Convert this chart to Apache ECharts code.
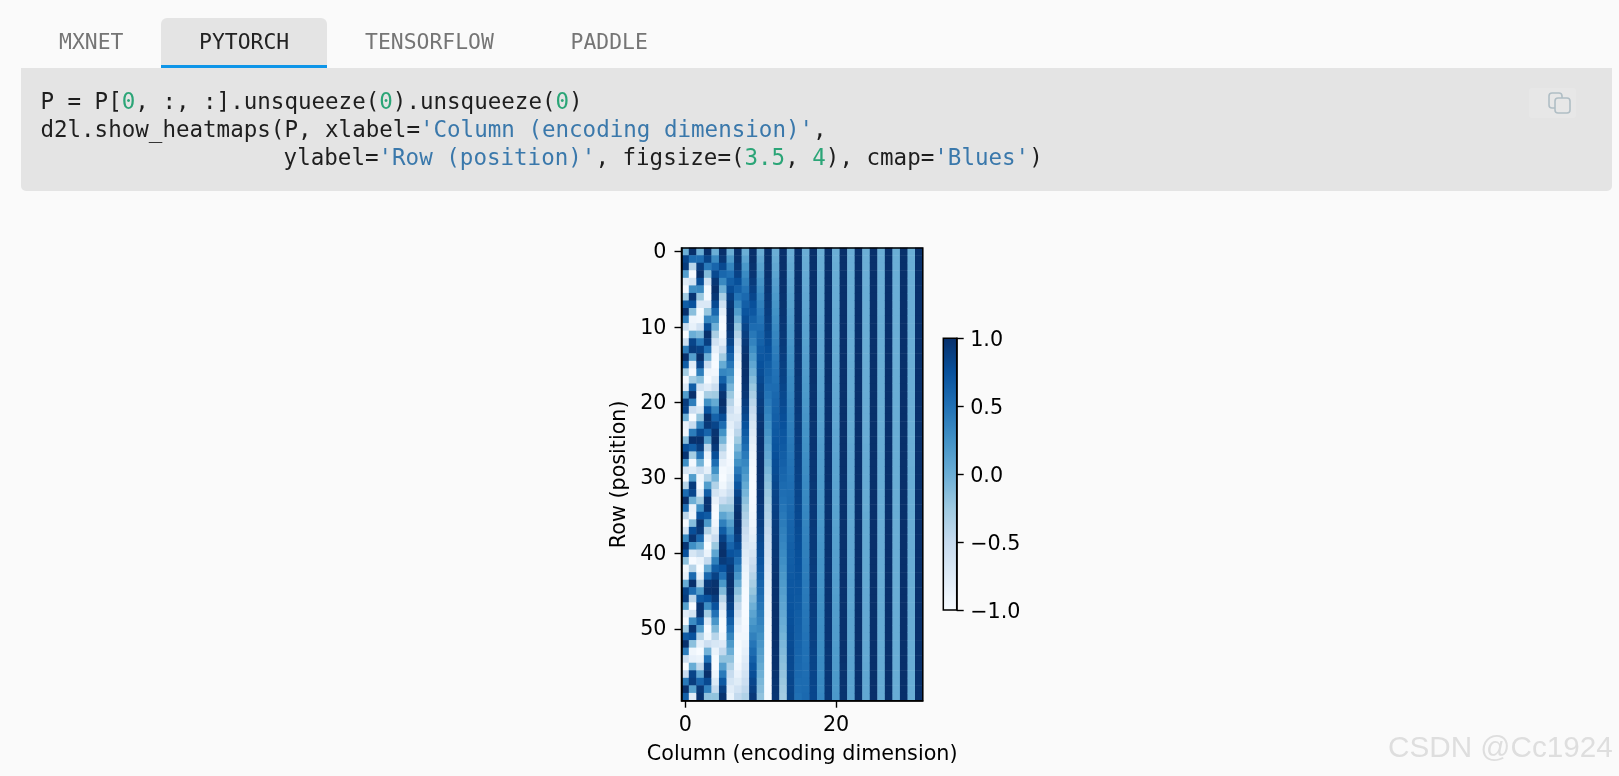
<!DOCTYPE html>
<html><head><meta charset="utf-8">
<style>html,body{margin:0;padding:0;background:#fafafa}#c{width:1619px;height:776px}</style>
<script src="https://cdn.jsdelivr.net/npm/echarts@6/dist/echarts.min.js"></script>
</head><body><div id="c"></div>
<script>
const tabLabels = ['MXNET','PYTORCH','TENSORFLOW','PADDLE'];
const colorbarTicks = [-1,-0.5,0,0.5,1];
const blues = ['#f7fbff','#deebf7','#c6dbef','#9ecae1','#6baed6','#4292c6','#2171b5','#08519c','#08306b'];
const xLabel = 'Column (encoding dimension)';
const yLabel = 'Row (position)';

const col0=[0,.84,.91,.14,-.76,-.96,-.28,.66,.99,.41,
-.54,-1,-.54,.42,.99,.65,-.29,-.96,-.75,.15,
.91,.84,-.01,-.85,-.91,-.13,.76,.96,.27,-.66,
-.99,-.40,.55,1,.53,-.43,-.99,-.64,.30,.96,
.75,-.16,-.92,-.83,.02,.85,.90,.12,-.77,-.95,
-.26,.67,.99,.40,-.56,-1,-.52,.44,.99,.64];
const col1=[1,.54,-.42,-.99,-.65,.28,.96,.75,-.15,-.91,
-.84,0,.84,.91,.14,-.76,-.96,-.28,.66,.99,
.41,-.55,-1,-.53,.42,.99,.65,-.29,-.96,-.75,
.15,.91,.83,-.01,-.85,-.90,-.13,.77,.96,.27,
-.67,-.99,-.40,.56,1,.53,-.43,-.99,-.64,.30,
.96,.74,-.16,-.92,-.83,.02,.85,.90,.12,-.77];
const col2=[0,.53,.90,.99,.78,.32,-.23,-.71,-.98,-.94,
-.61,-.10,.45,.86,1,.83,.41,-.13,-.64,-.95,
-.97,-.70,-.19,.36,.80,.99,.89,.50,-.03,-.57,
-.92,-.99,-.75,-.29,.27,.74,.98,.93,.58,.06,
-.48,-.87,-1,-.82,-.38,.17,.67,.96,.96,.66,
.16,-.39,-.82,-1,-.87,-.47,.07,.59,.93,.98];
const col3=[1,.85,.43,-.12,-.63,-.95,-.97,-.71,-.21,.34,
.79,1,.89,.51,-.02,-.55,-.91,-.99,-.77,-.31,
.25,.72,.98,.93,.60,.12,-.45,-.87,-1,-.82,
-.39,.15,.66,.96,.96,.67,.19,-.37,-.82,-1,
-.88,-.49,.05,.58,.93,.98,.74,.28,-.28,-.75,
-.99,-.92,-.57,-.04,.50,.88,1,.81,.37,-.19];
const col4=[0,.31,.59,.81,.95,1,.95,.80,.57,.29,
-.02,-.33,-.61,-.83,-.96,-1,-.94,-.79,-.56,-.27,
.04,.35,.62,.84,.97,1,.93,.77,.53,.25,
-.06,-.37,-.64,-.85,-.97,-1,-.92,-.76,-.52,-.23,
.08,.39,.66,.86,.98,1,.91,.74,.50,.21,
-.10,-.41,-.68,-.87,-.98,-1,-.90,-.73,-.49,-.19];
const col5=[1,.95,.81,.58,.32,-.01,-.32,-.60,-.82,-.96,
-1,-.94,-.80,-.56,-.28,.03,.34,.62,.83,.96,
1,.94,.78,.54,.25,-.05,-.37,-.64,-.85,-.97,
-1,-.93,-.77,-.52,-.23,.08,.39,.66,.86,.97,
1,.92,.75,.50,.20,-.10,-.41,-.67,-.87,-.98,
-.99,-.91,-.74,-.48,-.18,.13,.43,.69,.88,.98];
const col6=[0,.18,.35,.51,.65,.78,.88,.95,.99,1,
.98,.93,.85,.74,.61,.46,.29,.12,-.06,-.23,
-.40,-.56,-.70,-.81,-.90,-.96,-1,-1,-.96,-.90,
-.81,-.70,-.56,-.40,-.24,-.06,.12,.29,.46,.60,
.74,.85,.93,.98,1,.99,.94,.87,.78,.65,
.51,.35,.18,0,-.18,-.35,-.51,-.65,-.78,-.87];
const col7=[1,.98,.94,.86,.76,.63,.48,.32,.15,-.03,
-.21,-.38,-.54,-.67,-.79,-.89,-.96,-.99,-1,-.97,
-.92,-.83,-.72,-.58,-.43,-.26,-.09,.09,.26,.43,
.58,.72,.83,.92,.97,1,.99,.96,.89,.80,
.68,.53,.38,.21,.03,-.15,-.32,-.48,-.63,-.76,
-.86,-.94,-.98,-1,-.98,-.94,-.86,-.76,-.63,-.48];
const col8=[0,.10,.20,.30,.39,.48,.56,.64,.72,.78,
.84,.89,.93,.96,.99,1,1,.99,.97,.95,
.91,.86,.81,.75,.68,.60,.52,.43,.33,.24,
.14,.04,-.06,-.16,-.26,-.35,-.44,-.53,-.61,-.69,
-.76,-.82,-.87,-.92,-.95,-.98,-.99,-1,-1,-.98,
-.96,-.93,-.88,-.83,-.77,-.71,-.63,-.55,-.46,-.37];
const col9=[1,1,.98,.96,.92,.88,.83,.76,.70,.62,
.54,.45,.36,.27,.17,.07,-.03,-.13,-.23,-.32,
-.42,-.50,-.59,-.67,-.74,-.80,-.86,-.90,-.94,-.97,
-.99,-1,-1,-.99,-.97,-.94,-.90,-.85,-.79,-.73,
-.65,-.57,-.49,-.40,-.31,-.21,-.11,-.01,.09,.19,
.28,.38,.47,.55,.63,.71,.78,.83,.88,.93];
const col10=[0,.06,.11,.17,.22,.28,.33,.38,.43,.48,
.53,.58,.62,.67,.71,.75,.78,.81,.85,.87,
.90,.92,.95,.96,.98,.99,.99,1,1,1,
.99,.98,.97,.96,.93,.92,.90,.87,.84,.81,
.78,.74,.70,.66,.61,.57,.52,.47,.42,.37,
.32,.26,.21,.15,.10,.04,-.01,-.07,-.12,-.18];
const col11=[1,1,.99,.99,.97,.96,.94,.92,.90,.88,
.85,.82,.78,.75,.71,.66,.62,.58,.53,.48,
.43,.38,.33,.27,.22,.16,.10,.05,-.01,-.07,
-.13,-.18,-.24,-.29,-.35,-.39,-.44,-.49,-.54,-.58,
-.63,-.67,-.71,-.75,-.79,-.82,-.85,-.88,-.90,-.93,
-.95,-.96,-.98,-.99,-1,-1,-1,-1,-.99,-.98];
const col12=[0,.03,.06,.09,.13,.16,.19,.22,.25,.28,
.31,.34,.37,.40,.43,.46,.49,.51,.54,.57,
.59,.62,.64,.67,.69,.71,.73,.76,.78,.79,
.81,.83,.85,.86,.88,.89,.91,.92,.93,.94,
.95,.96,.97,.98,.99,.99,.99,1,1,1,
1,1,1,.99,.99,.99,.98,.97,.97,.96];
const col13=[1,1,1,1,.99,.99,.98,.98,.97,.96,
.95,.94,.93,.92,.90,.89,.87,.86,.84,.82,
.81,.79,.77,.75,.72,.70,.68,.65,.63,.60,
.58,.55,.52,.50,.47,.44,.42,.39,.36,.33,
.30,.27,.24,.20,.17,.14,.11,.08,.05,.02,
-.01,-.05,-.08,-.11,-.14,-.17,-.20,-.23,-.26,-.29];
const col14=[0,.02,.04,.05,.07,.09,.11,.12,.14,.16,
.18,.19,.21,.23,.25,.26,.28,.30,.31,.33,
.35,.37,.38,.40,.41,.43,.45,.46,.48,.49,
.51,.52,.54,.55,.57,.58,.60,.61,.62,.64,
.65,.66,.67,.69,.70,.71,.72,.73,.74,.76,
.77,.78,.79,.80,.81,.81,.82,.83,.84,.85];
const col15=[1,1,1,1,1,1,.99,.99,.99,.99,
.98,.98,.98,.97,.97,.96,.96,.95,.95,.94,
.94,.93,.92,.92,.91,.90,.89,.89,.88,.87,
.86,.85,.84,.83,.82,.81,.80,.79,.78,.77,
.76,.75,.74,.73,.71,.70,.69,.68,.66,.65,
.64,.63,.61,.60,.58,.57,.56,.54,.53,.51];
const col16=[0,.01,.02,.03,.04,.05,.06,.07,.08,.09,
.10,.11,.12,.13,.14,.15,.16,.17,.18,.19,
.20,.21,.22,.23,.24,.25,.26,.27,.28,.29,
.30,.31,.31,.32,.33,.34,.35,.36,.37,.38,
.39,.40,.41,.42,.43,.43,.44,.45,.46,.47,
.48,.49,.50,.51,.51,.52,.53,.54,.55,.56];
const col17=[1,1,1,1,1,1,1,1,1,1,
1,.99,.99,.99,.99,.99,.99,.99,.98,.98,
.98,.98,.98,.97,.97,.97,.97,.96,.96,.96,
.96,.95,.95,.95,.94,.94,.94,.93,.93,.93,
.92,.92,.91,.91,.90,.90,.90,.89,.89,.88,
.88,.87,.87,.86,.85,.85,.84,.84,.83,.83];
const col18=[0,.01,.01,.02,.02,.03,.03,.04,.04,.05,
.06,.06,.07,.07,.08,.08,.09,.10,.10,.11,
.11,.12,.12,.13,.13,.14,.15,.15,.16,.16,
.17,.17,.18,.18,.19,.19,.20,.21,.21,.22,
.22,.23,.23,.24,.24,.25,.26,.26,.27,.27,
.28,.28,.29,.29,.30,.30,.31,.32,.32,.33];
const col19=[1,1,1,1,1,1,1,1,1,1,
1,1,1,1,1,1,1,1,.99,.99,
.99,.99,.99,.99,.99,.99,.99,.99,.99,.99,
.99,.98,.98,.98,.98,.98,.98,.98,.98,.98,
.98,.97,.97,.97,.97,.97,.97,.96,.96,.96,
.96,.96,.96,.95,.95,.95,.95,.95,.95,.95];
const col20=[0,0,.01,.01,.01,.02,.02,.02,.03,.03,
.03,.03,.04,.04,.04,.05,.05,.05,.06,.06,
.06,.07,.07,.07,.08,.08,.08,.09,.09,.09,
.09,.10,.10,.10,.11,.11,.11,.12,.12,.12,
.13,.13,.13,.14,.14,.14,.15,.15,.15,.15,
.16,.16,.16,.17,.17,.17,.18,.18,.18,.19];
const col21=[1,1,1,1,1,1,1,1,1,1,
1,1,1,1,1,1,1,1,1,1,
1,1,1,1,1,1,1,1,1,1,
.99,.99,.99,.99,.99,.99,.99,.99,.99,.99,
.99,.99,.99,.99,.99,.99,.99,.99,.99,.99,
.99,.99,.99,.99,.99,.98,.98,.98,.98,.98];
const col22=[0,0,0,.01,.01,.01,.01,.01,.01,.02,
.02,.02,.02,.02,.02,.03,.03,.03,.03,.03,
.04,.04,.04,.04,.04,.04,.05,.05,.05,.05,
.05,.06,.06,.06,.06,.06,.06,.07,.07,.07,
.07,.07,.07,.08,.08,.08,.08,.08,.09,.09,
.09,.09,.09,.09,.10,.10,.10,.10,.10,.10];
const col23=[1,1,1,1,1,1,1,1,1,1,
1,1,1,1,1,1,1,1,1,1,
1,1,1,1,1,1,1,1,1,1,
1,1,1,1,1,1,1,1,1,1,
1,1,1,1,1,1,1,1,1,1,
1,1,1,1,.99,.99,.99,.99,.99,.99];
const col24=[0,0,0,0,0,.01,.01,.01,.01,.01,
.01,.01,.01,.01,.01,.02,.02,.02,.02,.02,
.02,.02,.02,.02,.02,.02,.03,.03,.03,.03,
.03,.03,.03,.03,.03,.04,.04,.04,.04,.04,
.04,.04,.04,.04,.04,.05,.05,.05,.05,.05,
.05,.05,.05,.05,.05,.06,.06,.06,.06,.06];
const col25=[1,1,1,1,1,1,1,1,1,1,
1,1,1,1,1,1,1,1,1,1,
1,1,1,1,1,1,1,1,1,1,
1,1,1,1,1,1,1,1,1,1,
1,1,1,1,1,1,1,1,1,1,
1,1,1,1,1,1,1,1,1,1];
const col26=[0,0,0,0,0,0,0,0,0,.01,
.01,.01,.01,.01,.01,.01,.01,.01,.01,.01,
.01,.01,.01,.01,.01,.01,.01,.02,.02,.02,
.02,.02,.02,.02,.02,.02,.02,.02,.02,.02,
.02,.02,.02,.02,.02,.03,.03,.03,.03,.03,
.03,.03,.03,.03,.03,.03,.03,.03,.03,.03];
const col27=[1,1,1,1,1,1,1,1,1,1,
1,1,1,1,1,1,1,1,1,1,
1,1,1,1,1,1,1,1,1,1,
1,1,1,1,1,1,1,1,1,1,
1,1,1,1,1,1,1,1,1,1,
1,1,1,1,1,1,1,1,1,1];
const col28=[0,0,0,0,0,0,0,0,0,0,
0,0,0,0,0,0,.01,.01,.01,.01,
.01,.01,.01,.01,.01,.01,.01,.01,.01,.01,
.01,.01,.01,.01,.01,.01,.01,.01,.01,.01,
.01,.01,.01,.01,.01,.01,.01,.01,.02,.02,
.02,.02,.02,.02,.02,.02,.02,.02,.02,.02];
const col29=[1,1,1,1,1,1,1,1,1,1,
1,1,1,1,1,1,1,1,1,1,
1,1,1,1,1,1,1,1,1,1,
1,1,1,1,1,1,1,1,1,1,
1,1,1,1,1,1,1,1,1,1,
1,1,1,1,1,1,1,1,1,1];
const col30=[0,0,0,0,0,0,0,0,0,0,
0,0,0,0,0,0,0,0,0,0,
0,0,0,0,0,0,0,0,0,.01,
.01,.01,.01,.01,.01,.01,.01,.01,.01,.01,
.01,.01,.01,.01,.01,.01,.01,.01,.01,.01,
.01,.01,.01,.01,.01,.01,.01,.01,.01,.01];
const col31=[1,1,1,1,1,1,1,1,1,1,
1,1,1,1,1,1,1,1,1,1,
1,1,1,1,1,1,1,1,1,1,
1,1,1,1,1,1,1,1,1,1,
1,1,1,1,1,1,1,1,1,1,
1,1,1,1,1,1,1,1,1,1];

const columns=[col0,col1,col2,col3,col4,col5,col6,col7,col8,col9,col10,col11,col12,col13,col14,col15,
col16,col17,col18,col19,col20,col21,col22,col23,col24,col25,col26,col27,col28,col29,col30,col31];
const colNames = columns.map((c,i)=>String(i));
const rowNames = col0.map((v,i)=>String(i));
const cells = [];
columns.forEach((c,x)=>c.forEach((v,y)=>cells.push([x,y,v])));

const mono = '"DejaVu Sans Mono"';
const sans = '"DejaVu Sans"';
const panel = '#e4e4e4';
const codeFont = {fontSize:22.53,fontFamily:mono};
const rich = {
  g:{fill:'#2ba577',...codeFont},
  s:{fill:'#3a78ab',...codeFont},
  n:{fill:'#1e1e1e',...codeFont}
};
function codeLine(x,y,text){
  return {type:'text',x,y,silent:true,style:{text,fill:'#1e1e1e',...codeFont,verticalAlign:'middle',rich}};
}
const tabX=[59,199,365,570.5];
const graphics=[
  {type:'rect',shape:{x:161,y:18,width:166,height:50,r:[6,6,0,0]},style:{fill:panel},silent:true},
  {type:'rect',shape:{x:161,y:65,width:166,height:3},style:{fill:'#0e95e8'},silent:true},
  {type:'rect',shape:{x:21,y:68,width:1591,height:123,r:[0,0,5,5]},style:{fill:panel},silent:true},
  ...tabLabels.map((t,i)=>({type:'text',x:tabX[i],y:43.6,silent:true,style:{text:t,fontSize:21.4,fontFamily:mono,fill:i===1?'#222222':'#757575',verticalAlign:'middle'}})),
  codeLine(40.4,103,"{n|P = P[}{g|0}{n|, :, :].unsqueeze(}{g|0}{n|).unsqueeze(}{g|0}{n|)}"),
  codeLine(40.4,131.5,"{n|d2l.show_heatmaps(P, xlabel=}{s|'Column (encoding dimension)'}{n|,}"),
  codeLine(283.6,159,"{n|ylabel=}{s|'Row (position)'}{n|, figsize=(}{g|3.5}{n|, }{g|4}{n|), cmap=}{s|'Blues'}{n|)}"),
  {type:'rect',shape:{x:1529,y:88,width:47,height:30,r:3},style:{fill:'#e7e7e7'},silent:true},
  {type:'rect',shape:{x:1549,y:93,width:13,height:15,r:3},style:{fill:'none',stroke:'#b0bec5',lineWidth:1.6},silent:true},
  {type:'rect',shape:{x:1555,y:98,width:15,height:15,r:3},style:{fill:'#e7e7e7',stroke:'#b0bec5',lineWidth:1.6},silent:true},
  {type:'text',x:1388,y:749,silent:true,z:100,style:{text:'CSDN @Cc1924',fontSize:29.7,fontFamily:'"Liberation Sans"',fill:'#dedede',verticalAlign:'middle',textShadowColor:'#c8c8c8',textShadowBlur:0,textShadowOffsetX:0.7,textShadowOffsetY:0.7}}
];

const labelSize=20.7;
const tickStyle={show:true,length:7,alignWithLabel:true,lineStyle:{color:'#000',width:1.4}};
const labelRich=pad=>({a:{fontSize:labelSize,fontFamily:sans,color:'#000',padding:[pad,0,0,0]}});
const chart=echarts.init(document.getElementById('c'));
chart.setOption({
  animation:false,
  backgroundColor:'#fafafa',
  textStyle:{fontFamily:sans},
  graphic:graphics,
  grid:[
    {left:681.5,top:247.9,width:241.3,height:452.8,show:true,z:5,borderColor:'#000',borderWidth:1.5,backgroundColor:'transparent',containLabel:false},
    {left:943.3,top:338.3,width:13.4,height:271.7,show:true,z:5,borderColor:'#000',borderWidth:1.5,backgroundColor:'transparent',containLabel:false}
  ],
  xAxis:[
    {type:'category',gridIndex:0,data:colNames,z:6,name:xLabel,nameLocation:'middle',nameGap:43,
     nameTextStyle:{fontSize:labelSize,color:'#000',fontFamily:sans},
     axisLine:{show:true,lineStyle:{color:'#000',width:1.5}},
     axisTick:{...tickStyle,interval:i=>i%20===0},
     axisLabel:{interval:i=>i%20===0,fontSize:labelSize,color:'#000',margin:14,fontFamily:sans,hideOverlap:false},
     splitLine:{show:false},splitArea:{show:false}},
    {type:'category',gridIndex:1,data:[''],show:false}
  ],
  yAxis:[
    {type:'category',gridIndex:0,data:rowNames,inverse:true,z:6,name:yLabel,nameLocation:'middle',nameGap:51,
     nameTextStyle:{fontSize:labelSize,color:'#000',fontFamily:sans},
     axisLine:{show:true,lineStyle:{color:'#000',width:1.5}},
     axisTick:{...tickStyle,interval:i=>i%10===0},
     axisLabel:{interval:i=>i%10===0,fontSize:labelSize,color:'#000',margin:15,fontFamily:sans,hideOverlap:false,
       formatter:v=>'{a|'+v+'}',rich:labelRich(2)},
     splitLine:{show:false},splitArea:{show:false}},
    {type:'value',gridIndex:1,position:'right',min:-1,max:1,interval:0.5,z:6,
     axisLine:{show:true,lineStyle:{color:'#000',width:1.5}},
     axisTick:{show:true,length:7,lineStyle:{color:'#000',width:1.4}},
     axisLabel:{fontSize:labelSize,color:'#000',margin:13.5,fontFamily:sans,showMinLabel:true,showMaxLabel:true,rich:labelRich(5),
       formatter:v=>(colorbarTicks.includes(v)?'{a|'+v.toFixed(1).replace('-','\u2212')+'}':'')},
     splitLine:{show:false}}
  ],
  visualMap:{type:'continuous',min:-1,max:1,seriesIndex:0,left:943.3,top:338.3,itemWidth:13.4,itemHeight:271.7,
    padding:0,show:true,calculable:false,hoverLink:false,z:1,inRange:{color:blues},textStyle:{color:'#000'}},
  series:[{type:'heatmap',xAxisIndex:0,yAxisIndex:0,data:cells,progressive:0,silent:true,
    itemStyle:{borderWidth:0},emphasis:{disabled:true}}]
});
</script></body></html>
